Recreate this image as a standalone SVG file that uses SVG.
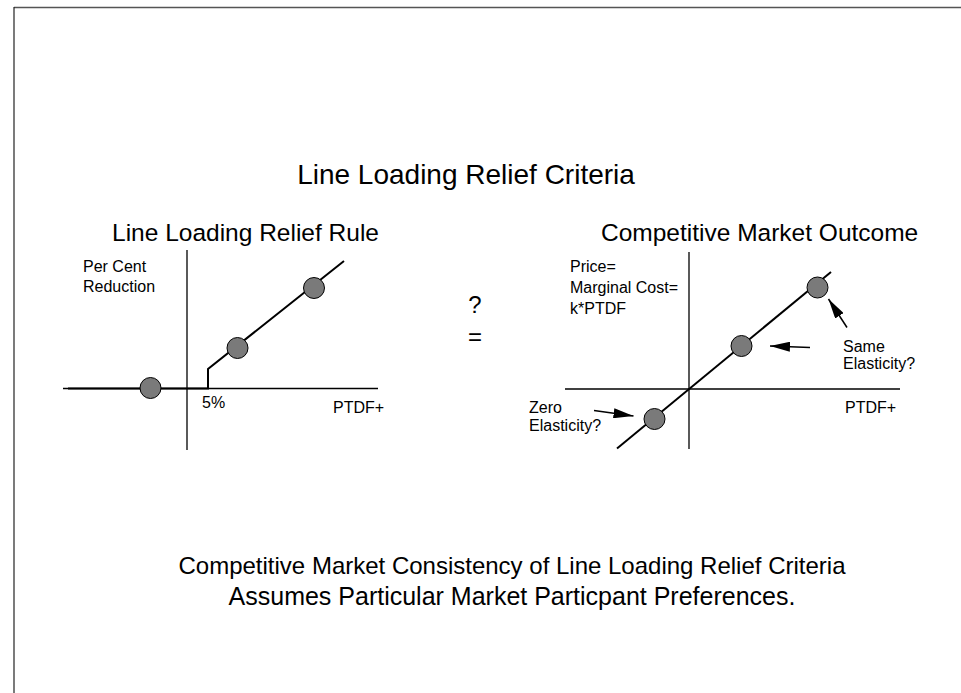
<svg xmlns="http://www.w3.org/2000/svg" width="961" height="693" viewBox="0 0 961 693">
<style>
text{font-family:"Liberation Sans",Arial,sans-serif;fill:#000}
.t1{font-size:28px}
.t2{font-size:24.5px}
.t3{font-size:24px}
.s{font-size:16px}
.ax{stroke:#000;stroke-width:1.3;fill:none}
.ln{stroke:#000;stroke-width:2;fill:none}
.dot{fill:#7a7a7a;stroke:#000;stroke-width:1}
.ar{stroke:#000;stroke-width:1.5;fill:none}
</style>
<defs>
<marker id="ah" viewBox="0 0 20 10" refX="20" refY="5" markerWidth="20" markerHeight="10" orient="auto" markerUnits="userSpaceOnUse">
<path d="M0,0 L20,5 L0,10 z" fill="#000"/>
</marker>
</defs>
<rect width="961" height="693" fill="#fff"/>
<g id="frame">
<line x1="14" y1="7.5" x2="961" y2="7.5" stroke="#555" stroke-width="1.5"/>
<line x1="14" y1="7" x2="14" y2="693" stroke="#222" stroke-width="1.2"/>
</g>
<g id="titles">
<text class="t1" x="466" y="184" text-anchor="middle">Line Loading Relief Criteria</text>
<text class="t2" x="112" y="241">Line Loading Relief Rule</text>
<text class="t2" x="601" y="241">Competitive Market Outcome</text>
<text class="t3" x="475" y="313" text-anchor="middle">?</text>
<text class="t3" x="475" y="345" text-anchor="middle">=</text>
<text class="t3" x="512" y="574" text-anchor="middle">Competitive Market Consistency of Line Loading Relief Criteria</text>
<text class="t3" x="512" y="605" text-anchor="middle" style="font-size:25px">Assumes Particular Market Particpant Preferences.</text>
</g>
<g id="left-chart">
<line class="ax" x1="187" y1="250" x2="187" y2="450"/>
<line class="ax" x1="63" y1="388.5" x2="378" y2="388.5"/>
<polyline class="ln" points="68,388.5 208,388.5 208,369 344,261"/>
<circle class="dot" cx="150.5" cy="388" r="10.5"/>
<circle class="dot" cx="237.5" cy="348" r="10.5"/>
<circle class="dot" cx="314" cy="288" r="10.5"/>
<text class="s" x="83" y="272">Per Cent</text>
<text class="s" x="83" y="292">Reduction</text>
<text class="s" x="202" y="408">5%</text>
<text class="s" x="333" y="413">PTDF+</text>
</g>
<g id="right-chart">
<line class="ax" x1="689" y1="252" x2="689" y2="449"/>
<line class="ax" x1="565" y1="389" x2="900" y2="389"/>
<line class="ln" x1="617" y1="448.5" x2="831" y2="272"/>
<circle class="dot" cx="654.5" cy="419" r="10.5"/>
<circle class="dot" cx="741.5" cy="346" r="10.5"/>
<circle class="dot" cx="817.5" cy="287.5" r="10.5"/>
<text class="s" x="570" y="272">Price=</text>
<text class="s" x="570" y="293">Marginal Cost=</text>
<text class="s" x="570" y="314">k*PTDF</text>
<text class="s" x="843" y="352">Same</text>
<text class="s" x="843" y="368.5">Elasticity?</text>
<text class="s" x="529" y="412.5">Zero</text>
<text class="s" x="529" y="431">Elasticity?</text>
<text class="s" x="845" y="413">PTDF+</text>
</g>
<g id="connectors">
<line class="ar" x1="810" y1="347.5" x2="770" y2="346" marker-end="url(#ah)"/>
<line class="ar" x1="847" y1="327.5" x2="828.5" y2="299" marker-end="url(#ah)"/>
<line class="ar" x1="594" y1="410.5" x2="633.5" y2="416" marker-end="url(#ah)"/>
</g>
</svg>
